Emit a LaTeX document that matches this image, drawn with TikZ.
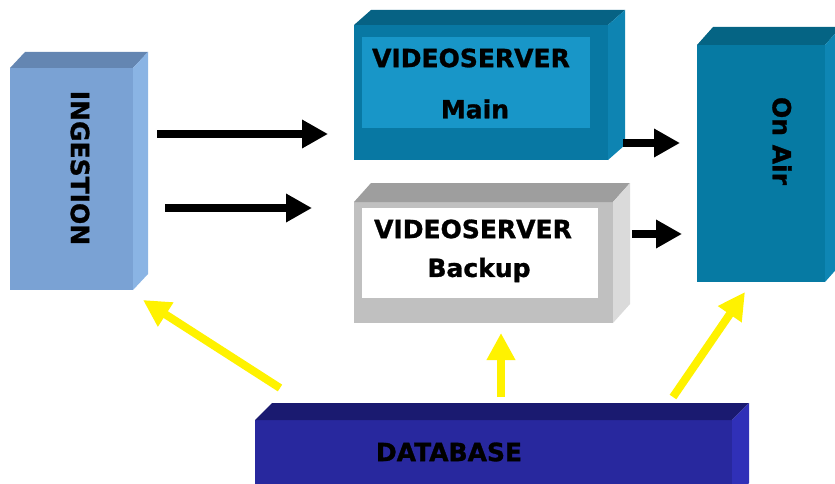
\documentclass[tikz,border=0pt]{standalone}
\usepackage{fontspec}
\setmainfont{DejaVu Sans}[BoldFeatures={FakeBold=1.2}]
\usetikzlibrary{arrows.meta,calc}

\definecolor{ingfront}{RGB}{122,162,212}
\definecolor{ingtop}{RGB}{100,134,178}
\definecolor{ingside}{RGB}{138,180,228}
\definecolor{vsfront}{RGB}{8,120,163}
\definecolor{vsinner}{RGB}{24,150,200}
\definecolor{vstop}{RGB}{6,98,132}
\definecolor{vsside}{RGB}{14,132,178}
\definecolor{bkfront}{RGB}{192,192,192}
\definecolor{bktop}{RGB}{158,158,158}
\definecolor{bkside}{RGB}{218,218,218}
\definecolor{airfront}{RGB}{6,122,163}
\definecolor{airtop}{RGB}{5,100,132}
\definecolor{airside}{RGB}{14,134,180}
\definecolor{dbfront}{RGB}{40,40,158}
\definecolor{dbtop}{RGB}{26,26,112}
\definecolor{dbside}{RGB}{48,48,184}

% top and right faces of a box drawn as a front node
\newcommand{\boxsides}[4]{%
  \fill[#3] (#1.north west) -- ++(#2) -- ($(#1.north east)+(#2)$) -- (#1.north east) -- cycle;
  \fill[#4] (#1.north east) -- ++(#2) -- ($(#1.south east)+(#2)$) -- (#1.south east) -- cycle;
}

\tikzset{
  boxface/.style={draw=none, inner sep=0pt, outer sep=0pt},
  boxtext/.style={font=\bfseries\fontsize{25}{25}\selectfont, inner sep=0pt},
  feed/.style={line width=8pt, -{Triangle[length=26pt,width=27pt]}},
  query/.style={draw=yellow, line width=8pt, -{Triangle[length=27pt,width=27pt,fill=yellow]}}
}

\begin{document}
\begin{tikzpicture}[x=1pt,y=-1pt]
  \useasboundingbox (0,0) rectangle (835,484);
  \clip (0,0) rectangle (835,484);

  % ingestion
  \node[boxface, fill=ingfront, minimum width=123pt, minimum height=222pt] (ingest) at (71.5,179) {};
  \boxsides{ingest}{15,-16}{ingtop}{ingside}
  \node[boxtext, rotate=-90] (ingestlbl) at (80,168) {INGESTION};

  % main videoserver
  \node[boxface, fill=vsfront, minimum width=254pt, minimum height=135pt] (main) at (481,92.5) {};
  \boxsides{main}{17,-15}{vstop}{vsside}
  \node[boxface, fill=vsinner, minimum width=228pt, minimum height=91pt] (maininner) at (476,82.5) {};
  \node[boxtext] (mainlbl) at (471,58) {VIDEOSERVER};
  \node[boxtext] (mainsub) at (475,109) {Main};

  % backup videoserver
  \node[boxface, fill=bkfront, minimum width=259pt, minimum height=121pt] (backup) at (483.5,262.5) {};
  \boxsides{backup}{17,-19}{bktop}{bkside}
  \node[boxface, fill=white, minimum width=236pt, minimum height=90pt] (backupinner) at (480,253) {};
  \node[boxtext] (backuplbl) at (473,229) {VIDEOSERVER};
  \node[boxtext] (backupsub) at (479,270) {Backup};

  % on air
  \node[boxface, fill=airfront, minimum width=128pt, minimum height=237pt] (onair) at (761,163.5) {};
  \boxsides{onair}{16,-18}{airtop}{airside}
  \node[boxtext, rotate=-90] (onairlbl) at (782,141) {On Air};

  % database
  \node[boxface, fill=dbfront, minimum width=477pt, minimum height=80pt] (db) at (493.5,460) {};
  \boxsides{db}{17,-17}{dbtop}{dbside}
  \node[boxtext] (dblbl) at (449,452) {DATABASE};

  % feeds
  \coordinate (ingA) at (157,134);
  \coordinate (mainin) at (328,134);
  \coordinate (ingB) at (165,208);
  \coordinate (backupin) at (312,208);
  \coordinate (mainout) at (623,143);
  \coordinate (airA) at (680,143);
  \coordinate (backupout) at (632,234);
  \coordinate (airB) at (682,234);
  \draw[feed] (ingA) -- (mainin);
  \draw[feed] (ingB) -- (backupin);
  \draw[feed] (mainout) -- (airA);
  \draw[feed] (backupout) -- (airB);

  % database links
  \coordinate (dbA) at (280,388);
  \coordinate (ingin) at (143,300);
  \coordinate (dbB) at (501,397);
  \coordinate (backupbot) at (501,333);
  \coordinate (dbC) at (673,397);
  \coordinate (airin) at (745,292);
  \draw[query] (dbA) -- (ingin);
  \draw[query] (dbB) -- (backupbot);
  \draw[query] (dbC) -- (airin);
\end{tikzpicture}
\end{document}
